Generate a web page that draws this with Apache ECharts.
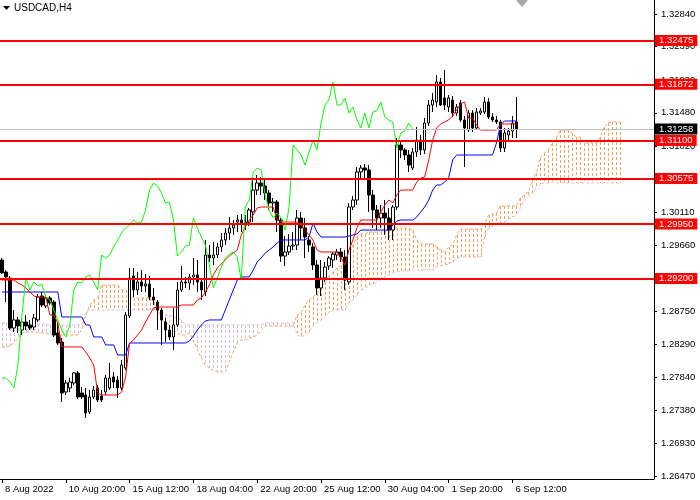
<!DOCTYPE html>
<html>
<head>
<meta charset="utf-8">
<script src="https://cdn.jsdelivr.net/npm/echarts@6/dist/echarts.min.js"></script>
<style>
  html, body { margin: 0; padding: 0; background: #fff; }
  #chart { width: 700px; height: 500px; }
</style>
</head>
<body>
<div id="chart"></div>
<script>
// USDCAD H4 with Ichimoku
const tickLabels = ['8 Aug 2022', '10 Aug 20:00', '15 Aug 12:00', '18 Aug 04:00', '22 Aug 20:00',
  '25 Aug 12:00', '30 Aug 04:00', '1 Sep 20:00', '6 Sep 12:00']
const yTicks = [1.26470, 1.26930, 1.27380, 1.27840, 1.28290, 1.28750, 1.29200, 1.29660,
  1.30110, 1.30570, 1.31020, 1.31480, 1.31930, 1.32390, 1.32840]
const levels = [1.32475, 1.31872, 1.31100, 1.30575, 1.29950, 1.29200]
const lastPrice = 1.31258

const opens = [
  1.29454, 1.29289, 1.29206, 1.28517, 1.28628, 1.28490, 1.28600, 1.28559, 1.28531, 1.28628,
  1.28958, 1.28820, 1.28931, 1.28875, 1.28449, 1.28325, 1.27636, 1.27692, 1.27760, 1.27898,
  1.27623, 1.27595, 1.27361, 1.27568, 1.27692, 1.27581, 1.27636, 1.27692, 1.27843, 1.27802,
  1.27692, 1.27967, 1.28683, 1.29233, 1.29041, 1.29151, 1.29096, 1.29123, 1.28944, 1.28875,
  1.28765, 1.28600, 1.28490, 1.28394, 1.28559, 1.29041, 1.29151, 1.29137, 1.29220, 1.29247,
  1.29151, 1.29013, 1.29522, 1.29481, 1.29522, 1.29633, 1.29729, 1.29825, 1.29894, 1.29976,
  1.30004, 1.29963, 1.29976, 1.30115, 1.30417, 1.30514, 1.30472, 1.30376, 1.30238, 1.30252,
  1.30004, 1.29508, 1.29564, 1.29646, 1.29660, 1.30032, 1.29894, 1.29729, 1.29633, 1.29385,
  1.29068, 1.29206, 1.29371, 1.29454, 1.29522, 1.29564, 1.29494, 1.29151, 1.30183, 1.30279,
  1.30665, 1.30720, 1.30692, 1.30348, 1.30142, 1.30032, 1.30100, 1.30032, 1.29866, 1.30183,
  1.31037, 1.30968, 1.30899, 1.30720, 1.30940, 1.31105, 1.30968, 1.31339, 1.31587, 1.31629,
  1.31904, 1.31684, 1.31560, 1.31656, 1.31477, 1.31615, 1.31381, 1.31243, 1.31477, 1.31271,
  1.31477, 1.31491, 1.31629, 1.31422, 1.31381, 1.31354, 1.30995, 1.31174, 1.31229, 1.31354
]
const highs = [
  1.29481, 1.29316, 1.29233, 1.28765, 1.28669, 1.28655, 1.28696, 1.28628, 1.28710, 1.28986,
  1.29013, 1.28972, 1.28958, 1.28903, 1.28600, 1.28380, 1.27802, 1.27829, 1.27912, 1.27925,
  1.27705, 1.27692, 1.27664, 1.27719, 1.27733, 1.27664, 1.27871, 1.28036, 1.27912, 1.27857,
  1.28077, 1.28738, 1.29344, 1.29344, 1.29289, 1.29316, 1.29261, 1.29233, 1.29068, 1.28903,
  1.28793, 1.28655, 1.28559, 1.28793, 1.29151, 1.29371, 1.29220, 1.29261, 1.29481, 1.29454,
  1.29206, 1.29729, 1.29660, 1.29701, 1.29688, 1.29825, 1.29894, 1.30045, 1.30004, 1.30073,
  1.30087, 1.30073, 1.30169, 1.30582, 1.30624, 1.30596, 1.30555, 1.30417, 1.30307, 1.30279,
  1.30032, 1.29784, 1.29811, 1.29839, 1.30142, 1.30115, 1.30032, 1.29784, 1.29688, 1.29454,
  1.29454, 1.29426, 1.29508, 1.29564, 1.29605, 1.29619, 1.29591, 1.30238, 1.30335, 1.30733,
  1.30761, 1.30775, 1.30761, 1.30417, 1.30211, 1.30211, 1.30279, 1.30169, 1.30211, 1.31133,
  1.31105, 1.30995, 1.30968, 1.30995, 1.31284, 1.31174, 1.31408, 1.31656, 1.31753, 1.32000,
  1.31959, 1.32069, 1.31725, 1.31711, 1.31601, 1.31656, 1.31436, 1.31518, 1.31518, 1.31546,
  1.31546, 1.31698, 1.31684, 1.31477, 1.31436, 1.31381, 1.31271, 1.31271, 1.31436, 1.31698
]
const lows = [
  1.29261, 1.28875, 1.28490, 1.28463, 1.28449, 1.28421, 1.28490, 1.28490, 1.28490, 1.28600,
  1.28806, 1.28793, 1.28834, 1.28394, 1.28284, 1.27499, 1.27595, 1.27636, 1.27733, 1.27540,
  1.27540, 1.27279, 1.27334, 1.27540, 1.27499, 1.27499, 1.27595, 1.27664, 1.27692, 1.27554,
  1.27664, 1.27939, 1.28655, 1.28944, 1.28972, 1.29013, 1.29013, 1.28903, 1.28834, 1.28490,
  1.28284, 1.28324, 1.28352, 1.28215, 1.28531, 1.29013, 1.29068, 1.29041, 1.29109, 1.29013,
  1.28903, 1.28958, 1.29426, 1.29385, 1.29481, 1.29564, 1.29660, 1.29729, 1.29798, 1.29839,
  1.29839, 1.29866, 1.29922, 1.29976, 1.30348, 1.30348, 1.30279, 1.30142, 1.30115, 1.29839,
  1.29426, 1.29371, 1.29522, 1.29591, 1.29591, 1.29729, 1.29481, 1.29564, 1.29316, 1.28972,
  1.28958, 1.29151, 1.29316, 1.29344, 1.29454, 1.29426, 1.29041, 1.29109, 1.30142, 1.30211,
  1.30555, 1.30555, 1.30115, 1.29894, 1.29866, 1.29894, 1.29798, 1.29729, 1.29729, 1.30142,
  1.30858, 1.30830, 1.30665, 1.30692, 1.30872, 1.30899, 1.30913, 1.31298, 1.31491, 1.31560,
  1.31573, 1.31518, 1.31491, 1.31422, 1.31436, 1.31354, 1.30734, 1.31216, 1.31216, 1.31243,
  1.31450, 1.31463, 1.31395, 1.31354, 1.31326, 1.30940, 1.30940, 1.31092, 1.31133, 1.31133
]
const closes = [
  1.29275, 1.29220, 1.28517, 1.28628, 1.28545, 1.28600, 1.28545, 1.28517, 1.28655, 1.28944,
  1.28834, 1.28931, 1.28862, 1.28421, 1.28311, 1.27623, 1.27760, 1.27774, 1.27898, 1.27568,
  1.27568, 1.27348, 1.27568, 1.27664, 1.27526, 1.27526, 1.27829, 1.27829, 1.27774, 1.27692,
  1.28008, 1.28696, 1.29206, 1.29041, 1.29151, 1.29096, 1.29123, 1.28944, 1.28903, 1.28765,
  1.28628, 1.28490, 1.28394, 1.28559, 1.29041, 1.29151, 1.29137, 1.29220, 1.29247, 1.29151,
  1.29041, 1.29522, 1.29481, 1.29522, 1.29633, 1.29729, 1.29825, 1.29894, 1.29935, 1.30004,
  1.29963, 1.29976, 1.30142, 1.30417, 1.30514, 1.30472, 1.30376, 1.30238, 1.30252, 1.30004,
  1.29508, 1.29564, 1.29646, 1.29660, 1.30032, 1.29894, 1.29770, 1.29660, 1.29385, 1.29068,
  1.29206, 1.29357, 1.29481, 1.29536, 1.29564, 1.29494, 1.29178, 1.30183, 1.30279, 1.30665,
  1.30720, 1.30692, 1.30348, 1.30142, 1.30032, 1.30100, 1.30032, 1.29866, 1.30183, 1.31037,
  1.30968, 1.30899, 1.30761, 1.30940, 1.31105, 1.30968, 1.31339, 1.31587, 1.31656, 1.31904,
  1.31587, 1.31587, 1.31684, 1.31477, 1.31560, 1.31381, 1.31271, 1.31477, 1.31271, 1.31491,
  1.31505, 1.31629, 1.31422, 1.31381, 1.31354, 1.30995, 1.31202, 1.31229, 1.31339, 1.31258
]
// Tenkan-sen (red)
const tenkan = [
  1.29178, 1.29178, 1.29178, 1.29178, 1.29137, 1.29109, 1.29068, 1.29013, 1.28958, 1.28944,
  1.28944, 1.28944, 1.28696, 1.28696, 1.28586, 1.28256, 1.28256, 1.28256, 1.28256, 1.28256,
  1.28256, 1.28187, 1.28105, 1.28008, 1.27623, 1.27595, 1.27595, 1.27595, 1.27595, 1.27595,
  1.27636, 1.27843, 1.28311, 1.28352, 1.28421, 1.28490, 1.28600, 1.28696, 1.28793, 1.28806,
  1.28806, 1.28806, 1.28806, 1.28806, 1.28806, 1.28834, 1.28834, 1.28834, 1.28834, 1.28903,
  1.28931, 1.29013, 1.29109, 1.29247, 1.29344, 1.29399, 1.29454, 1.29508, 1.29550, 1.29591,
  1.29798, 1.29908, 1.30004, 1.30073, 1.30169, 1.30183, 1.30183, 1.30183, 1.30183, 1.30004,
  1.29976, 1.29976, 1.29976, 1.29976, 1.29976, 1.29935, 1.29866, 1.29798, 1.29729, 1.29591,
  1.29564, 1.29564, 1.29564, 1.29564, 1.29564, 1.29481, 1.29385, 1.29591, 1.29729, 1.29894,
  1.30004, 1.30004, 1.30004, 1.30004, 1.30004, 1.30115, 1.30211, 1.30279, 1.30238, 1.30348,
  1.30417, 1.30417, 1.30417, 1.30417, 1.30527, 1.30582, 1.30596, 1.30830, 1.31105, 1.31271,
  1.31326, 1.31354, 1.31381, 1.31436, 1.31518, 1.31601, 1.31629, 1.31408, 1.31408, 1.31312,
  1.31243, 1.31243, 1.31243, 1.31243, 1.31243, 1.31326, 1.31326, 1.31326, 1.31326, 1.31326
]
// Kijun-sen (blue)
const kijun = [
  1.29013, 1.29013, 1.29013, 1.29013, 1.29013, 1.29013, 1.29013, 1.29013, 1.29013, 1.29013,
  1.29013, 1.29013, 1.29013, 1.29013, 1.29013, 1.28669, 1.28669, 1.28669, 1.28669, 1.28669,
  1.28669, 1.28559, 1.28559, 1.28394, 1.28394, 1.28394, 1.28284, 1.28284, 1.28284, 1.28146,
  1.28146, 1.28146, 1.28311, 1.28311, 1.28311, 1.28311, 1.28311, 1.28311, 1.28311, 1.28311,
  1.28311, 1.28311, 1.28311, 1.28311, 1.28311, 1.28311, 1.28311, 1.28338, 1.28407, 1.28490,
  1.28559, 1.28614, 1.28628, 1.28628, 1.28628, 1.28628, 1.28765, 1.28903, 1.29041, 1.29178,
  1.29220, 1.29220, 1.29220, 1.29316, 1.29426, 1.29481, 1.29550, 1.29591, 1.29633, 1.29688,
  1.29729, 1.29729, 1.29729, 1.29729, 1.29729, 1.29729, 1.29729, 1.29770, 1.29963, 1.29839,
  1.29770, 1.29770, 1.29770, 1.29770, 1.29770, 1.29770, 1.29770, 1.29784, 1.29798, 1.29811,
  1.29866, 1.29866, 1.29866, 1.29866, 1.29866, 1.29866, 1.29866, 1.29866, 1.29935, 1.29990,
  1.30004, 1.30004, 1.30004, 1.30004, 1.30045, 1.30115, 1.30183, 1.30279, 1.30417, 1.30486,
  1.30486, 1.30527, 1.30582, 1.30830, 1.30899, 1.30899, 1.30899, 1.30899, 1.30899, 1.30899,
  1.30899, 1.30899, 1.30899, 1.30899, 1.31064, 1.31312, 1.31367, 1.31367, 1.31367, 1.31367
]
// Senkou span A / B, already shifted 26 bars forward
const spanA = [
  1.28256, 1.28256, 1.28270, 1.28311, 1.28380, 1.28449, 1.28463, 1.28463, 1.28463, 1.28449,
  1.28449, 1.28449, 1.28435, 1.28421, 1.28421, 1.28421, 1.28421, 1.28421, 1.28421, 1.28421,
  1.28490, 1.28696, 1.28834, 1.28903, 1.28944, 1.29109, 1.29109, 1.29109, 1.29109, 1.29109,
  1.29041, 1.29041, 1.28944, 1.28931, 1.28931, 1.28931, 1.28931, 1.28931, 1.28875, 1.28765,
  1.28628, 1.28600, 1.28559, 1.28490, 1.28449, 1.28421, 1.28421, 1.28449, 1.28352, 1.28215,
  1.28105, 1.28008, 1.27967, 1.27939, 1.27912, 1.27912, 1.27912, 1.28050, 1.28187, 1.28311,
  1.28352, 1.28352, 1.28380, 1.28394, 1.28421, 1.28490, 1.28545, 1.28545, 1.28545, 1.28545,
  1.28545, 1.28545, 1.28545, 1.28545, 1.28696, 1.28724, 1.28834, 1.28903, 1.28944, 1.28999,
  1.29068, 1.29151, 1.29233, 1.29289, 1.29344, 1.29371, 1.29412, 1.29508, 1.29660, 1.29770,
  1.29811, 1.29811, 1.29839, 1.29839, 1.29839, 1.29839, 1.29852, 1.29866, 1.29880, 1.29894,
  1.29894, 1.29894, 1.29894, 1.29866, 1.29729, 1.29674, 1.29674, 1.29674, 1.29674, 1.29633,
  1.29591, 1.29564, 1.29633, 1.29660, 1.29798, 1.29880, 1.29880, 1.29880, 1.29880, 1.29880,
  1.29880, 1.29935, 1.30073, 1.30087, 1.30100, 1.30197, 1.30197, 1.30197, 1.30197, 1.30197,
  1.30307, 1.30348, 1.30390, 1.30555, 1.30651, 1.30858, 1.30926, 1.30968, 1.31064, 1.31133,
  1.31243, 1.31243, 1.31243, 1.31202, 1.31146, 1.31146, 1.31064, 1.31064, 1.31064, 1.31064,
  1.31146, 1.31284, 1.31339, 1.31354, 1.31354, 1.31354
]
const spanB = [
  1.28586, 1.28586, 1.28586, 1.28586, 1.28586, 1.28586, 1.28586, 1.28586, 1.28586, 1.28573,
  1.28573, 1.28573, 1.28559, 1.28559, 1.28559, 1.28559, 1.28559, 1.28559, 1.28559, 1.28559,
  1.28559, 1.28738, 1.28765, 1.28765, 1.28765, 1.28765, 1.28765, 1.28765, 1.28765, 1.28765,
  1.28765, 1.28765, 1.28765, 1.28765, 1.28765, 1.28765, 1.28765, 1.28765, 1.28765, 1.28751,
  1.28696, 1.28696, 1.28696, 1.28669, 1.28655, 1.28628, 1.28559, 1.28559, 1.28559, 1.28559,
  1.28559, 1.28559, 1.28559, 1.28559, 1.28559, 1.28559, 1.28559, 1.28559, 1.28559, 1.28559,
  1.28559, 1.28559, 1.28559, 1.28559, 1.28559, 1.28559, 1.28586, 1.28586, 1.28586, 1.28586,
  1.28586, 1.28586, 1.28586, 1.28586, 1.28421, 1.28394, 1.28421, 1.28463, 1.28559, 1.28586,
  1.28628, 1.28683, 1.28738, 1.28765, 1.28765, 1.28765, 1.28765, 1.28862, 1.28903, 1.28972,
  1.29041, 1.29068, 1.29096, 1.29123, 1.29151, 1.29178, 1.29220, 1.29247, 1.29275, 1.29289,
  1.29302, 1.29302, 1.29302, 1.29316, 1.29316, 1.29316, 1.29316, 1.29316, 1.29316, 1.29357,
  1.29371, 1.29385, 1.29399, 1.29426, 1.29481, 1.29494, 1.29494, 1.29494, 1.29494, 1.29494,
  1.29494, 1.29770, 1.29894, 1.29922, 1.29935, 1.29963, 1.29976, 1.30004, 1.30045, 1.30073,
  1.30169, 1.30279, 1.30321, 1.30376, 1.30445, 1.30500, 1.30514, 1.30514, 1.30527, 1.30514,
  1.30514, 1.30514, 1.30514, 1.30514, 1.30514, 1.30514, 1.30514, 1.30514, 1.30514, 1.30514,
  1.30514, 1.30514, 1.30514, 1.30514, 1.30514, 1.30514
]

const barCount = 164
const lagShift = 26
const font = 'Liberation Sans'
const orange = '#f4a460'
const thistle = '#d8bfd8'

const categories = Array.from({ length: barCount }, (_, i) => String(i))
const candles = opens.map((o, i) => [o, closes[i], lows[i], highs[i]])
const chikou = closes.slice(lagShift)
// kumo rows: index, upper edge, lower edge, 1 when span A is on top
const kumo = spanA.map((a, i) => [i, Math.max(a, spanB[i]), Math.min(a, spanB[i]), a >= spanB[i] ? 1 : 0])
const showTick = i => i % 16 === 0 && i / 16 < tickLabels.length

const chart = echarts.init(document.getElementById('chart'))
chart.setOption({
  animation: false,
  grid: { left: -2, right: 46, top: 0, bottom: 21 },
  xAxis: {
    type: 'category',
    data: categories,
    boundaryGap: true,
    axisLine: { show: true, onZero: false, lineStyle: { color: '#000', width: 1 } },
    axisTick: { show: true, interval: showTick, alignWithLabel: true, length: 4, lineStyle: { color: '#000' } },
    axisLabel: {
      interval: showTick,
      formatter: (v, i) => tickLabels[i / 16],
      align: 'left',
      padding: [0, 0, 0, 3],
      margin: 5,
      color: '#000',
      fontSize: 9.5,
      fontFamily: font
    },
    splitLine: { show: false }
  },
  yAxis: {
    type: 'value',
    position: 'right',
    min: 1.264386,
    max: 1.330327,
    splitLine: { show: false },
    axisLine: { show: true, lineStyle: { color: '#000', width: 1 } },
    axisTick: { show: true, length: 3, customValues: yTicks, lineStyle: { color: '#000' } },
    axisLabel: {
      customValues: yTicks,
      formatter: v => v.toFixed(5),
      margin: 7,
      color: '#000',
      fontSize: 9.5,
      fontFamily: font
    }
  },
  graphic: [
    { type: 'polygon', left: 3, top: 6, shape: { points: [[0, 0], [7, 0], [3.5, 4]] }, style: { fill: '#000' } },
    { type: 'text', left: 14, top: 3, style: { text: 'USDCAD,H4', fill: '#000', fontSize: 10, fontFamily: font } },
    { type: 'polygon', left: 516, top: 0, shape: { points: [[0, 0], [12, 0], [6, 7]] }, style: { fill: '#a8a8a8' } }
  ],
  series: [
    {
      name: 'spanA', type: 'line', z: 2, data: spanA, showSymbol: false,
      lineStyle: { color: orange, width: 1, type: [3, 2] }
    },
    {
      name: 'spanB', type: 'line', z: 2, data: spanB, showSymbol: false,
      lineStyle: { color: thistle, width: 1, type: [3, 2] }
    },
    {
      name: 'price', type: 'line', z: 2, data: [],
      markLine: {
        silent: true, symbol: ['none', 'none'], precision: 5,
        lineStyle: { color: '#c0c0c0', width: 1, type: 'solid' },
        label: {
          position: 'end', distance: 1, formatter: p => Number(p.value).toFixed(5),
          backgroundColor: '#000', color: '#fff', padding: [1, 4, 0, 4],
          fontSize: 9.5, lineHeight: 10, fontFamily: font
        },
        data: [{ yAxis: lastPrice }]
      }
    },
    {
      name: 'USDCAD', type: 'candlestick', z: 3, data: candles, barWidth: 3,
      itemStyle: { color: '#ffffff', color0: '#000000', borderColor: '#000000', borderColor0: '#000000', borderWidth: 1 }
    },
    {
      // hatch drawn after the candles so nothing else tints it
      name: 'kumo', type: 'custom', z: 3, data: kumo, encode: { x: 0, y: [1, 2] },
      renderItem: (params, api) => {
        const i = api.value(0)
        const top = api.coord([i, api.value(1)])
        const bottom = api.coord([i, api.value(2)])
        const x = Math.round(top[0]) + 0.5
        return {
          type: 'line',
          shape: { x1: x, y1: Math.round(top[1]), x2: x, y2: Math.round(bottom[1]) },
          style: { stroke: api.value(3) ? orange : thistle, lineWidth: 1, lineDash: [3, 2] }
        }
      }
    },
    {
      name: 'kijun', type: 'line', z: 4, data: kijun, showSymbol: false,
      lineStyle: { color: '#0000ff', width: 1 }
    },
    {
      name: 'tenkan', type: 'line', z: 4, data: tenkan, showSymbol: false,
      lineStyle: { color: '#ff0000', width: 1 }
    },
    {
      name: 'chikou', type: 'line', z: 4, data: chikou, showSymbol: false,
      lineStyle: { color: '#00ff00', width: 1 }
    },
    {
      name: 'levels', type: 'line', z: 6, data: [], clip: false,
      markLine: {
        silent: true, symbol: ['none', 'none'], precision: 5,
        lineStyle: { color: '#ff0000', width: 2, type: 'solid' },
        label: {
          position: 'end', distance: 1, formatter: p => Number(p.value).toFixed(5),
          backgroundColor: '#ff0000', color: '#fff', padding: [1, 4, 0, 4],
          fontSize: 9.5, lineHeight: 10, fontFamily: font
        },
        data: levels.map(v => ({ yAxis: v }))
      }
    }
  ]
})
</script>
</body>
</html>
